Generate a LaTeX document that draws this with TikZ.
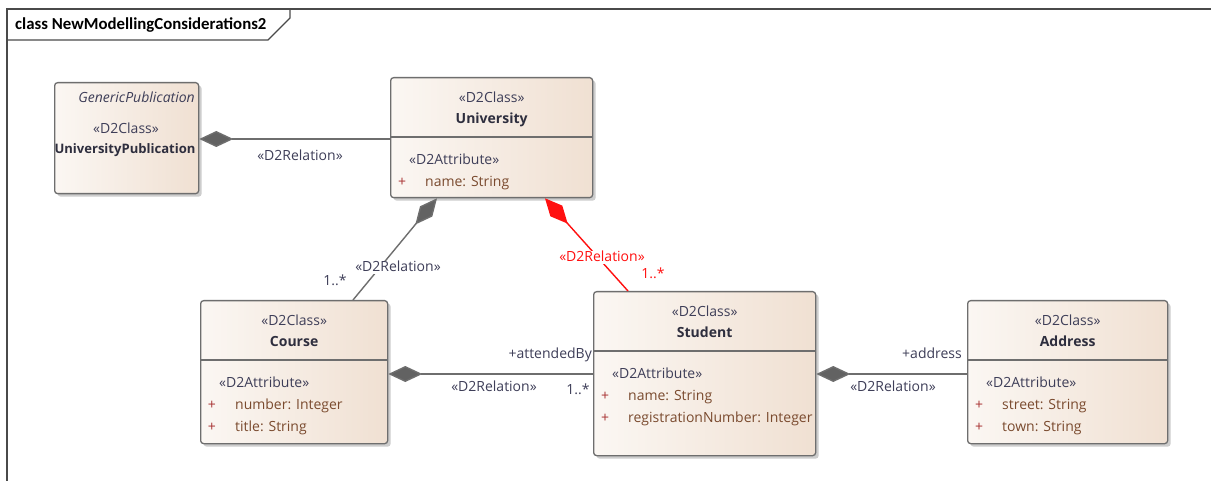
\documentclass[tikz,border=0pt]{standalone}
\usepackage{fontspec}
\setmainfont{Open Sans}
\newfontfamily\titlefont{Carlito}
\usetikzlibrary{arrows.meta,shadows,calc}

\definecolor{boxL}{HTML}{FBF7F3}
\definecolor{boxR}{HTML}{F0E0D2}
\definecolor{edge}{HTML}{6E6E6E}
\definecolor{framec}{HTML}{4A4A4A}
\definecolor{diafill}{HTML}{626262}
\definecolor{stereoc}{HTML}{3E3E58}
\definecolor{namec}{HTML}{2E2E3E}
\definecolor{attrc}{HTML}{7A4A2E}
\definecolor{visc}{HTML}{A83232}
\definecolor{relred}{HTML}{FF1010}

\newcommand\fs{\fontsize{14}{17}\selectfont}

% class box with name compartment and attribute stereotype
\newcommand\umlclass[6]{%
  \node[classbox,minimum width=#4pt,minimum height=#5pt] (#1) at (#2,#3) {};
  \draw[divider] ($(#1.north west)+(0,60)$) -- ($(#1.north east)+(0,60)$);
  \node[stereotxt] (#1-kind) at ($(#1.north)+(0,20)$) {«D2Class»};
  \node[nametxt] (#1-name) at ($(#1.north)+(0,41)$) {#6};
  \node[stereotxt,anchor=west] (#1-attrs) at ($(#1.north west)+(19,82)$) {«D2Attribute»};
}
% one attribute row
\newcommand\umlattr[3]{%
  \node[vistxt] (#1-v#2) at ($(#1.north west)+(12,{82+22*#2})$) {+};
  \node[attrtxt] (#1-a#2) at ($(#1.north west)+(35,{82+22*#2})$) {#3};
}

\begin{document}
\begin{tikzpicture}[x=1pt,y=-1pt,
  classbox/.style={draw=edge,line width=1.3pt,rounded corners=3pt,
    left color=boxL,right color=boxR,anchor=north west,inner sep=0pt,
    drop shadow={shadow xshift=3pt,shadow yshift=-3pt,opacity=0.28,fill=black!70}},
  divider/.style={draw=edge,line width=1.3pt},
  txt/.style={inner sep=0pt,font=\fs,text height=10pt,text depth=3pt,yshift=-2pt},
  stereotxt/.style={txt,text=stereoc},
  nametxt/.style={txt,text=namec,font=\fs\bfseries},
  attrtxt/.style={txt,text=attrc,anchor=west},
  vistxt/.style={txt,text=visc},
  rel/.style={draw=edge,line width=1.4pt},
  comp/.style={{Diamond[length=34pt,width=16pt,fill=diafill]}-},
  lbl/.style={txt,text=stereoc},
  redlbl/.style={txt,text=relred},
]
\useasboundingbox[fill=white] (0,0) rectangle (1211,481);

% diagram frame with its name tab
\draw[framec,line width=1.1pt] (7,481) -- (7,9) -- (1211,9);
\draw[framec,line width=1.1pt] (7,40) -- (268,40) -- (290,18) -- (290,9);
\node[inner sep=0pt,anchor=west,text=black,font=\titlefont\bfseries\fontsize{16.8}{19}\selectfont]
  (frametitle) at (15,25) {class NewModellingConsiderations2};

% classes
\node[classbox,minimum width=144pt,minimum height=111pt] (pub) at (54,82) {};
\node[stereotxt,anchor=east,font=\fs\itshape] (pub-gen) at (195,97) {GenericPublication};
\node[stereotxt] (pub-kind) at (126,128) {«D2Class»};
\node[nametxt] (pub-name) at (125,148) {\resizebox{141pt}{!}{UniversityPublication}};

\umlclass{univ}{390}{77}{202}{120}{University}
\umlattr{univ}{1}{name: String}

\umlclass{course}{200}{300}{187}{143}{Course}
\umlattr{course}{1}{number: Integer}
\umlattr{course}{2}{title: String}

\umlclass{student}{593}{291}{222}{164}{Student}
\umlattr{student}{1}{name: String}
\umlattr{student}{2}{registrationNumber: Integer}

\umlclass{address}{967}{300}{200}{143}{Address}
\umlattr{address}{1}{street: String}
\umlattr{address}{2}{town: String}

% compositions
\draw[rel,comp] (pub.east |- 0,139) -- (univ.west |- 0,139);
\node[lbl] (r1) at (300,155) {«D2Relation»};

\draw[rel,comp] (univ.south -| 437,0) -- (course.north -| 353,0);
\node[lbl,fill=white,inner xsep=1pt] (r2) at (398,266) {«D2Relation»};
\node[lbl] (m2) at (335,280) {1..*};

\draw[rel,draw=relred,{Diamond[length=34pt,width=16pt,fill=relred]}-] (univ.south -| 545,0) -- (student.north -| 628,0);
\node[redlbl,fill=white,inner xsep=1pt] (r3) at (602,256) {«D2Relation»};
\node[redlbl] (m3) at (653,273) {1..*};

\draw[rel,comp] (course.east |- 0,374) -- (student.west |- 0,374);
\node[lbl,fill=white,anchor=east,inner xsep=1pt] (e4) at (593,353) {+attendedBy};
\node[lbl] (r4) at (494,386) {«D2Relation»};
\node[lbl] (m4) at (578,389) {1..*};

\draw[rel,comp] (student.east |- 0,374) -- (address.west |- 0,374);
\node[lbl,anchor=east] (e5) at (962,353) {+address};
\node[lbl] (r5) at (893,386) {«D2Relation»};
\end{tikzpicture}
\end{document}
